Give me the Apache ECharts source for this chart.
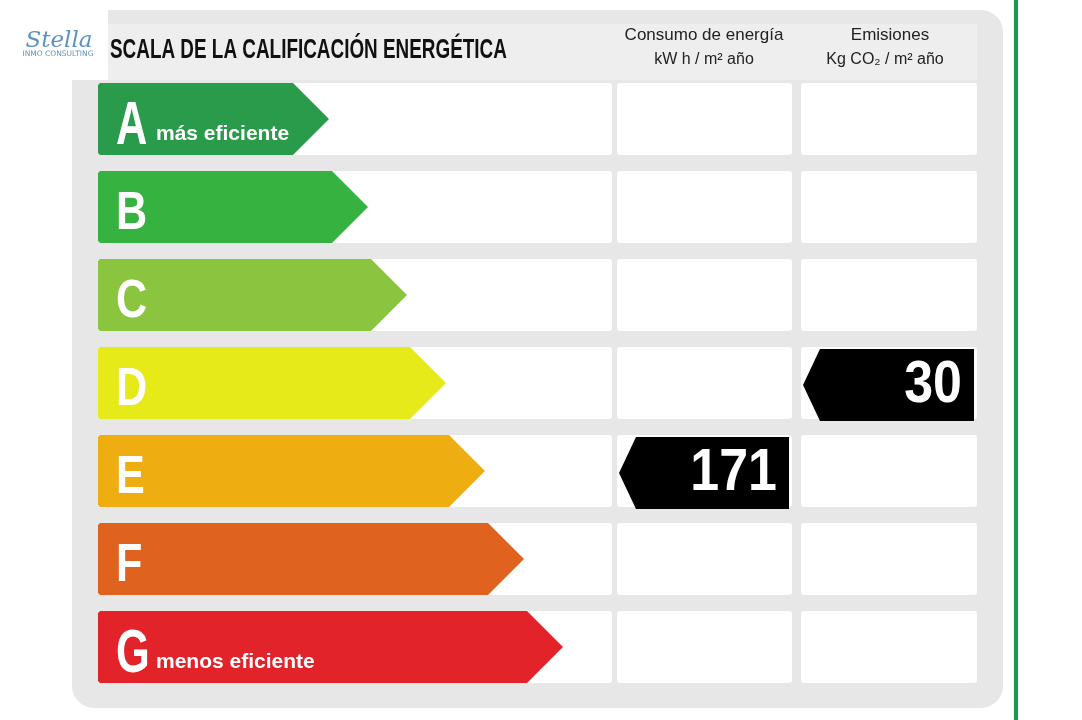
<!DOCTYPE html>
<html><head><meta charset="utf-8">
<script src="https://cdn.jsdelivr.net/npm/echarts@6/dist/echarts.min.js"></script>
<style>html,body{margin:0;padding:0;background:#fff}#c{width:1082px;height:720px}</style>
</head><body><div id="c"></div>
<script>
// ---- data ----
const ratings = ['A','B','C','D','E','F','G'];
const ratingNotes = ['más eficiente','','','','','','menos eficiente'];
const arrowLength = [231,270,309,348,387,426,465];
const ratingColors = ['#2a9a4b','#35b23f','#8bc53f','#e5ea18','#eeae12','#df621e','#e2232a'];
const consumoRating = ['E'];
const consumoValue = [171];
const emisionesRating = ['D'];
const emisionesValue = [30];
const title = 'SCALA DE LA CALIFICACIÓN ENERGÉTICA';
const colHeads = [['Consumo de energía','kW h / m² año'],['Emisiones','Kg CO₂ / m² año']];

// column extents in x-axis units
const COLS = [[0,514],[519,694],[703,879]];
const BAR_H = 72;
const SANS = '"Liberation Sans",Arial,sans-serif';

const chart = echarts.init(document.getElementById('c'), null, {renderer:'canvas'});

function cellsRender(params, api){
  const idx = api.value(0);
  const yc = api.coord([0, idx])[1];
  const children = COLS.map(c => {
    const x1 = api.coord([c[0], idx])[0], x2 = api.coord([c[1], idx])[0];
    return {type:'rect', shape:{x:x1, y:yc-BAR_H/2, width:x2-x1, height:BAR_H, r:3}, style:{fill:'#ffffff'}};
  });
  return {type:'group', children};
}

function arrowRender(params, api){
  const idx = api.value(1);
  const len = api.value(0);
  const p0 = api.coord([0, idx]);
  const pt = api.coord([len, idx]);
  const x0 = p0[0], yc = p0[1], xt = pt[0];
  const h = BAR_H/2, xb = xt - 36;
  const color = ratingColors[idx];
  const big = !!ratingNotes[idx];
  const children = [
    {type:'polygon', shape:{points:[[x0+2,yc-h],[xb,yc-h],[xt,yc],[xb,yc+h],[x0+2,yc+h],[x0,yc+h-2],[x0,yc-h+2]]}, style:{fill:color}},
    {type:'text', x:x0+18, y:yc+(big?8:7), scaleX:big?0.7:0.8,
     style:{text:ratings[idx], x:0, y:0, fill:'#fff', font:'bold '+(big?62:54)+'px '+SANS, textAlign:'left', textVerticalAlign:'middle'}}
  ];
  if (big) {
    children.push({type:'text', style:{text:ratingNotes[idx], x:x0+58, y:yc+15, fill:'#fff', font:'bold 21px '+SANS, textAlign:'left', textVerticalAlign:'middle'}});
  }
  return {type:'group', children};
}

function indicatorRender(col){
  return function(params, api){
    const idx = api.value(1);
    const val = api.value(0);
    const yc = api.coord([0, idx])[1] + 2;
    const c = COLS[col];
    const x1 = api.coord([c[0], idx])[0] + 2, x2 = api.coord([c[1], idx])[0] - 3;
    const h = BAR_H/2;
    return {type:'group', children:[
      {type:'polygon', shape:{points:[[x1+17,yc-h],[x2,yc-h],[x2,yc+h],[x1+17,yc+h],[x1,yc]]}, style:{fill:'#000'}},
      {type:'text', x:x2-12, y:yc+1, scaleX:0.88, style:{text:String(val), x:0, y:0, fill:'#fff', font:'bold 59px '+SANS, textAlign:'right', textVerticalAlign:'middle'}}
    ]};
  };
}

const option = {
  animation:false,
  backgroundColor:'#ffffff',
  grid:{left:98, top:75, width:879, height:616},
  xAxis:{type:'value', min:0, max:879, show:false},
  yAxis:{type:'category', data:ratings, inverse:true, show:false},
  graphic:[
    {type:'rect', z:-10, shape:{x:72, y:10, width:931, height:698, r:[0,22,22,22]}, style:{fill:'#e7e7e7'}},
    {type:'rect', z:-9, shape:{x:107, y:24, width:870, height:56}, style:{fill:'#eeeeee'}},
    {type:'rect', z:-8, shape:{x:0, y:10, width:108, height:70}, style:{fill:'#ffffff'}},
    {type:'text', z:-7, style:{text:'Stella', x:59, y:41, fill:'#5f93bf', font:'italic 23px "DejaVu Serif",serif', textAlign:'center', textVerticalAlign:'middle'}},
    {type:'text', z:-7, style:{text:'INMO CONSULTING', x:58, y:54, fill:'#5f93bf', font:'7.5px "DejaVu Sans",sans-serif', textAlign:'center', textVerticalAlign:'middle'}},
    {type:'text', z:-7, x:110, y:50, scaleX:0.675, style:{text:title, x:0, y:0, fill:'#111', font:'bold 28px '+SANS, textAlign:'left', textVerticalAlign:'middle'}},
    {type:'text', z:-7, style:{text:colHeads[0][0], x:704, y:35, fill:'#222', font:'17px '+SANS, textAlign:'center', textVerticalAlign:'middle'}},
    {type:'text', z:-7, style:{text:colHeads[0][1], x:704, y:60, fill:'#222', font:'16px '+SANS, textAlign:'center', textVerticalAlign:'middle'}},
    {type:'text', z:-7, style:{text:colHeads[1][0], x:890, y:35, fill:'#222', font:'17px '+SANS, textAlign:'center', textVerticalAlign:'middle'}},
    {type:'text', z:-7, style:{text:colHeads[1][1], x:885, y:60, fill:'#222', font:'16px '+SANS, textAlign:'center', textVerticalAlign:'middle'}},
    {type:'rect', z:-7, shape:{x:1014, y:0, width:4, height:720}, style:{fill:'#1a9a50'}}
  ],
  series:[
    {type:'custom', renderItem:cellsRender, data:ratings.map((r,i)=>[i]), z:1, silent:true},
    {type:'custom', renderItem:arrowRender, data:arrowLength.map((v,i)=>[v,i]), z:2, silent:true},
    {type:'custom', renderItem:indicatorRender(1), data:consumoValue.map((v,i)=>[v, ratings.indexOf(consumoRating[i])]), z:3, silent:true},
    {type:'custom', renderItem:indicatorRender(2), data:emisionesValue.map((v,i)=>[v, ratings.indexOf(emisionesRating[i])]), z:3, silent:true}
  ]
};
chart.setOption(option);
</script></body></html>
